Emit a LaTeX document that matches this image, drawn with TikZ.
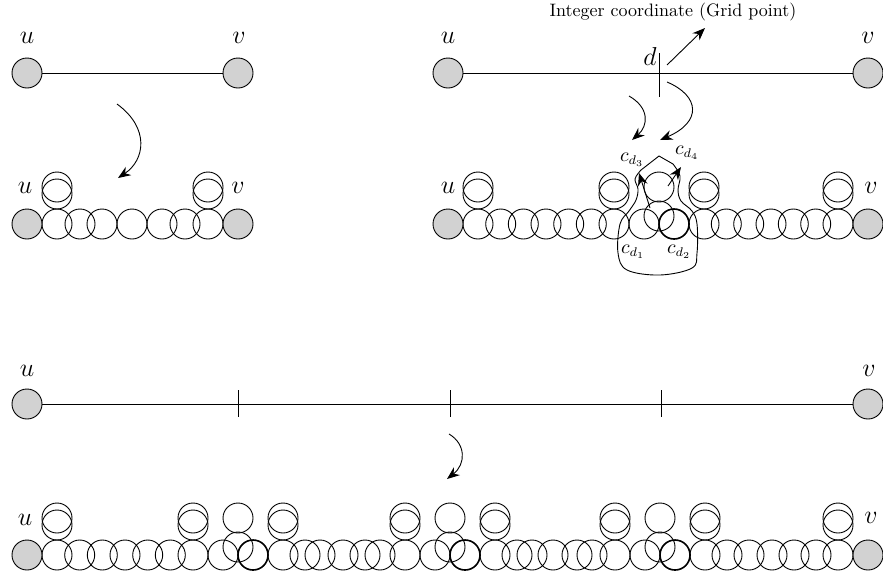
\documentclass[tikz,border=0pt]{standalone}
\usetikzlibrary{arrows.meta}
\begin{document}
\begin{tikzpicture}[x=0.5556pt,y=-0.5556pt,
  disk/.style={circle,draw,inner sep=0pt,minimum size=16.67pt,line width=0.5pt},
  term/.style={disk,fill=gray!35},
  bolddisk/.style={disk,line width=0.9pt},
  lbl/.style={inner sep=0pt},
  big/.style={lbl,font=\fontsize{15.5}{18}\selectfont},
  small/.style={lbl,font=\fontsize{10.5}{12}\selectfont},
  arr/.style={-{Stealth[length=7pt,width=5.5pt]},line width=0.5pt},
  edgeline/.style={line width=0.5pt}]
\useasboundingbox (0,0) rectangle (883,575);

% ---------- top left ----------
\node[term] (u1) at (27,73) {};
\node[term] (v1) at (238,73) {};
\node[big] (lu1) at (27,38) {$u$};
\node[big] (lv1) at (239,38) {$v$};
\draw[edgeline] (u1) -- (v1);
\coordinate (a1s) at (117,104);
\coordinate (a1e) at (118,178);
\draw[arr] (a1s) .. controls (150,128) and (145,160) .. (a1e);

% ---------- row 2 left ----------
\foreach \x [count=\i] in {57,80,102,132,162,185,208}
  \node[disk] (bl\i) at (\x,224) {};
\foreach \x [count=\i] in {57,208} {
  \node[disk] (blsa\i) at (\x,187) {};
  \node[disk] (blsb\i) at (\x,194) {};
}
\node[term] (u2) at (27,224) {};
\node[term] (v2) at (238,224) {};
\node[big] (lu2) at (25,188) {$u$};
\node[big] (lv2) at (238,188) {$v$};

% ---------- top right ----------
\node[term] (u3) at (448,73) {};
\node[term] (v3) at (868,73) {};
\node[big] (lu3) at (448,38) {$u$};
\node[big] (lv3) at (868,38) {$v$};
\draw[edgeline] (u3) -- (v3);
\coordinate (dt) at (659,53);
\coordinate (db) at (659,97);
\draw[edgeline] (dt) -- (db);
\node[big] (ld) at (650,56) {$d$};
\node[lbl] (grid) at (673,12) {Integer coordinate (Grid point)};
\coordinate (gs) at (667,65);
\coordinate (ge) at (705,28);
\draw[arr] (gs) -- (ge);
\coordinate (b1s) at (629,96);
\coordinate (b1e) at (632,140);
\draw[arr] (b1s) .. controls (650,108) and (648,126) .. (b1e);
\coordinate (b2s) at (667,82);
\coordinate (b2e) at (660,140);
\draw[arr] (b2s) .. controls (700,96) and (702,122) .. (b2e);

% ---------- row 2 right ----------
\foreach \x [count=\i] in {478,500.7,523.3,546,568.7,591.3,614,644,704,726.3,748.7,771,793.3,815.7,838}
  \node[disk] (br\i) at (\x,224) {};
\node[bolddisk] (cd2) at (674,224) {};
\foreach \x [count=\i] in {478,614,704,838} {
  \node[disk] (brsa\i) at (\x,187) {};
  \node[disk] (brsb\i) at (\x,194) {};
}
\node[disk] (cd3) at (659,216) {};
\node[disk] (cd4) at (659,187) {};
\node[term] (u4) at (448,224) {};
\node[term] (v4) at (868,224) {};
\node[big] (lu4) at (448,188) {$u$};
\node[big] (lv4) at (871,188) {$v$};

% gadget labels
\node[small] (lcd3) at (632,160) {$c_{d_3}$};
\node[small] (lcd4) at (687,153) {$c_{d_4}$};
\node[small] (lcd1) at (633,252) {$c_{d_1}$};
\node[small] (lcd2) at (679,252) {$c_{d_2}$};
\coordinate (c3s) at (650,208);
\coordinate (c3e) at (639,173);
\draw[arr] (c3s) -- (c3e);
\coordinate (c4s) at (668,186);
\coordinate (c4e) at (681,167);
\draw[arr] (c4s) -- (c4e);
% enclosing loop
\draw[edgeline] (641,170) -- (659,156) -- (673,164);
\draw[edgeline] plot[smooth,tension=0.6] coordinates {
  (673,164) (680,176) (678,190) (681,201) (692,211) (697,224) (697,253)
  (692,268) (660,275) (627,270) (618,253) (620,224) (629,211) (636,200)
  (638,189) (635,179) (641,170)};

% ---------- bottom line ----------
\node[term] (u5) at (27,404) {};
\node[term] (v5) at (868,404) {};
\node[big] (lu5) at (27,371) {$u$};
\node[big] (lv5) at (869,371) {$v$};
\draw[edgeline] (u5) -- (v5);
\foreach \x [count=\i] in {238,450,661} {
  \coordinate (tt\i) at (\x,390);
  \coordinate (tb\i) at (\x,417);
  \draw[edgeline] (tt\i) -- (tb\i);
}
\coordinate (c5s) at (449,434);
\coordinate (c5e) at (447,479);
\draw[arr] (c5s) .. controls (466,444) and (466,464) .. (c5e);

% ---------- bottom row ----------
\foreach \x [count=\i] in {57,79.7,102.3,125,147.7,170.3,193,223,283,305,320,343,365,380,405,435,495,517,532,553,577,592,615,645,705,727,749,772,794,816,838}
  \node[disk] (bb\i) at (\x,555) {};
\foreach \x [count=\i] in {253,465,675}
  \node[bolddisk] (bbt\i) at (\x,555) {};
\foreach \x [count=\i] in {238,450,660} {
  \node[disk] (bbr\i) at (\x,547) {};
  \node[disk] (bbu\i) at (\x,518) {};
}
\foreach \x [count=\i] in {57,193,283,405,495,615,705,838} {
  \node[disk] (bbsa\i) at (\x,518) {};
  \node[disk] (bbsb\i) at (\x,525) {};
}
\node[term] (u6) at (27,555) {};
\node[term] (v6) at (868,555) {};
\node[big] (lu6) at (25,520) {$u$};
\node[big] (lv6) at (871,518) {$v$};
\end{tikzpicture}
\end{document}
